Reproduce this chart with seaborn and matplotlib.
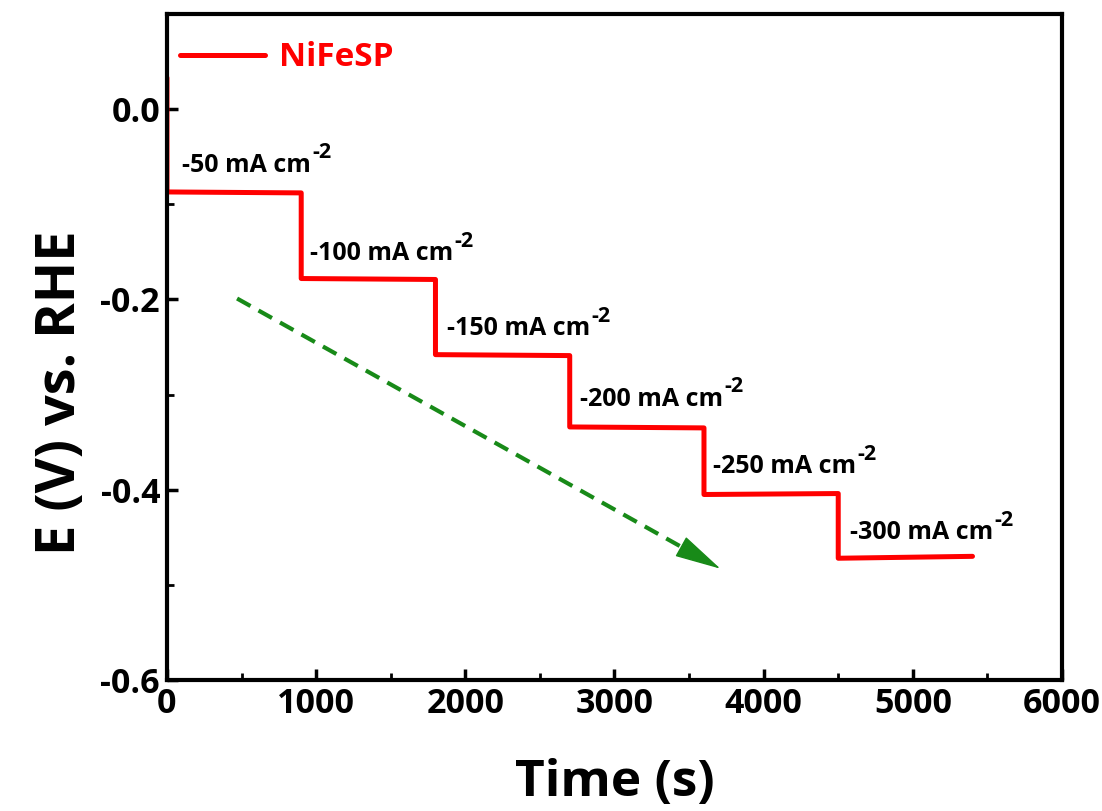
import numpy as np
import pandas as pd
import matplotlib
matplotlib.use("Agg")
import matplotlib.pyplot as plt
from matplotlib.ticker import MultipleLocator, FormatStrFormatter
import seaborn as sns

# Chronopotentiometry steps: each current density held for 900 s
step_edges = [0, 900, 1800, 2700, 3600, 4500, 5400]              # s
step_start_E = [-0.087, -0.178, -0.258, -0.334, -0.405, -0.472]  # V vs. RHE
step_end_E = [-0.088, -0.179, -0.259, -0.335, -0.404, -0.470]
initial_E = 0.033
current_labels = ["-50", "-100", "-150", "-200", "-250", "-300"]

# Build the staircase trace
t, E = [step_edges[0]], [initial_E]
for i in range(len(step_start_E)):
    t += [step_edges[i], step_edges[i + 1]]
    E += [step_start_E[i], step_end_E[i]]
df = pd.DataFrame({"Time (s)": t, "E": E})

sns.set_theme(style="white")
plt.rcParams["font.family"] = ["Open Sans", "DejaVu Sans"]
plt.rcParams["font.weight"] = "bold"
for key in ["text.color", "axes.labelcolor", "xtick.color", "ytick.color",
            "axes.edgecolor"]:
    plt.rcParams[key] = "black"

fig = plt.figure(figsize=(11.02, 8.11), dpi=100)
ax = fig.add_axes([0.1515, 0.1615, 0.8122, 0.8212])

sns.lineplot(data=df, x="Time (s)", y="E", sort=False, estimator=None,
             color="#ff0000", linewidth=3.6, label="NiFeSP", ax=ax)

# Current-density annotations with a raised "-2" exponent
label_x = [100, 959, 1877, 2769, 3660, 4579]
label_y = [-0.059, -0.152, -0.231, -0.305, -0.376, -0.445]
for lx, ly, lab in zip(label_x, label_y, current_labels):
    txt = ax.text(lx, ly, lab + " mA cm", fontsize=18, fontweight="bold",
                  ha="left", va="center")
    ax.annotate("-2", xy=(1.0, 0.58), xycoords=txt, xytext=(1, 0),
                textcoords="offset points", fontsize=15.5, fontweight="bold",
                ha="left", va="bottom")

# Trend arrow: dashed shaft with a solid head
arrow_start = (470, -0.199)
arrow_tip = (3710, -0.483)
head_frac = 0.93
head_base = (arrow_start[0] + head_frac * (arrow_tip[0] - arrow_start[0]),
             arrow_start[1] + head_frac * (arrow_tip[1] - arrow_start[1]))
green = "#188a18"
ax.plot([arrow_start[0], head_base[0]], [arrow_start[1], head_base[1]],
        color=green, lw=3, linestyle=(0, (3.7, 2.2)), solid_capstyle="butt")
ax.annotate("", xy=arrow_tip, xytext=head_base,
            arrowprops=dict(arrowstyle="-|>,head_length=1.5,head_width=0.36",
                            mutation_scale=20, color=green, lw=1,
                            shrinkA=0, shrinkB=0))

ax.set_xlim(0, 6000)
ax.set_ylim(-0.6, 0.1)
ax.xaxis.set_major_locator(MultipleLocator(1000))
ax.xaxis.set_minor_locator(MultipleLocator(500))
ax.yaxis.set_major_locator(MultipleLocator(0.2))
ax.yaxis.set_minor_locator(MultipleLocator(0.1))
ax.yaxis.set_major_formatter(FormatStrFormatter("%.1f"))

ax.tick_params(which="major", direction="in", length=8, width=2.5,
               labelsize=24.5, pad=5, color="black")
ax.tick_params(which="minor", direction="in", length=5, width=2, color="black")
ax.tick_params(left=True, bottom=True, which="both")
for lab in ax.get_xticklabels() + ax.get_yticklabels():
    lab.set_fontweight("bold")

for sp in ax.spines.values():
    sp.set_linewidth(3)
    sp.set_color("black")

ax.set_xlabel("Time (s)", fontsize=37, fontweight="bold", labelpad=27)
ax.set_ylabel("E (V) vs. RHE", fontsize=39, fontweight="bold")
ax.yaxis.set_label_coords(-0.088, 0.431)

leg = ax.legend(loc="upper left", bbox_to_anchor=(0, 0.979), frameon=False,
                handlelength=2.55, handletextpad=0.4, borderaxespad=0,
                borderpad=0.4, labelcolor="#ff0000",
                prop={"weight": "bold", "size": 24})

fig.savefig("out.png", dpi=100)
